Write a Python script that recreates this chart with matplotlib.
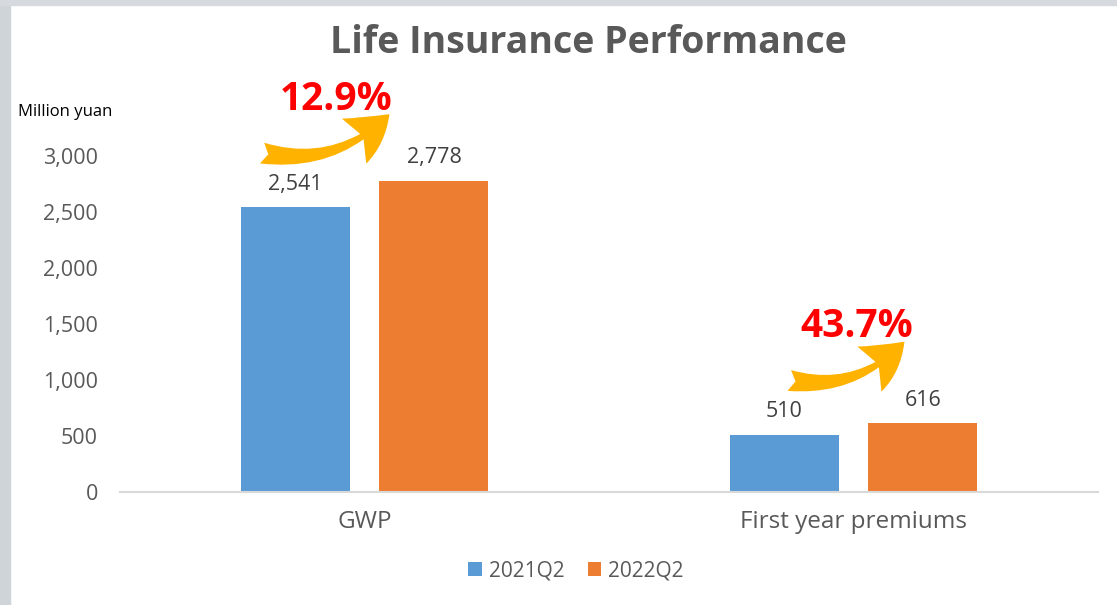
"""
Life Insurance Performance - grouped bar chart, 2021Q2 vs 2022Q2.
Output: out.png
"""
import numpy as np
import matplotlib
matplotlib.use("Agg")
import matplotlib.pyplot as plt
from matplotlib.patches import Rectangle, FancyArrowPatch

plt.rcParams["font.family"] = ["Open Sans", "DejaVu Sans"]

# data
CATEGORIES = ["GWP", "First year premiums"]
SERIES     = ["2021Q2", "2022Q2"]
VALS_2021  = [2541, 510]
VALS_2022  = [2778, 616]
GROWTH     = ["12.9%", "43.7%"]
YTICKS     = [0, 500, 1000, 1500, 2000, 2500, 3000]

BLUE   = "#5B9BD5"
ORANGE = "#ED7D31"
GOLD   = "#FFB300"
GREY_T = "#595959"

W, H = 1117, 605
fig = plt.figure(figsize=(W / 100, H / 100), dpi=100)

# window-ish frame strips (left and top)
fig.patches.append(Rectangle((0, 0), 10 / W, 1, transform=fig.transFigure,
                             color="#cfd4d9", zorder=0))
fig.patches.append(Rectangle((0, 1 - 5 / H), 1, 5 / H, transform=fig.transFigure,
                             color="#d6dade", zorder=0))

ax = fig.add_axes([120 / W, 113 / H, 978 / W, 336 / H])
x = np.arange(len(CATEGORIES))
bw, off = 0.223, 0.142

b1 = ax.bar(x - off, VALS_2021, bw, color=BLUE, label=SERIES[0], zorder=2)
b2 = ax.bar(x + off, VALS_2022, bw, color=ORANGE, label=SERIES[1], zorder=2)

for bars in (b1, b2):
    for r in bars:
        v = r.get_height()
        ax.text(r.get_x() + r.get_width() / 2, v + 205, f"{v:,.0f}",
                ha="center", va="center", fontsize=15.5, color="#404040")

ax.set_xlim(-0.5, 1.5)
ax.set_ylim(0, 3000)
ax.set_yticks(YTICKS)
ax.set_yticklabels([f"{t:,}" for t in YTICKS], fontsize=15.5, color=GREY_T)
ax.set_xticks(x)
ax.set_xticklabels(CATEGORIES, fontsize=17.5, color=GREY_T)
ax.tick_params(axis="y", length=0, pad=16)
ax.tick_params(axis="x", length=0, pad=13)
for s in ("top", "right", "left"):
    ax.spines[s].set_visible(False)
ax.spines["bottom"].set_color("#d9d9d9")
ax.spines["bottom"].set_linewidth(1.5)

# growth arrows + labels
tail_dx = [-0.215, -0.137]
tip_dx  = [0.055, 0.108]
for i in range(len(CATEGORIES)):
    y0 = VALS_2021[i] + 490
    y1 = y0 + 360
    arr = FancyArrowPatch((x[i] + tail_dx[i], y0), (x[i] + tip_dx[i], y1),
                          connectionstyle="arc3,rad=0.28",
                          arrowstyle="fancy,head_length=2.0,head_width=2.3,tail_width=0.95",
                          mutation_scale=16, color=GOLD, lw=0, clip_on=False, zorder=3)
    ax.add_patch(arr)
    xm = x[i] + (tail_dx[i] + tip_dx[i]) / 2 + 0.022
    ax.text(xm, y1 + 115, GROWTH[i], ha="center", va="center", fontsize=28,
            fontweight="bold", color="#FF0000", clip_on=False, zorder=4)

fig.text(588 / W, 1 - 43 / H, "Life Insurance Performance", ha="center", va="center",
         fontsize=27, fontweight="bold", color=GREY_T)
fig.text(18 / W, 1 - 112 / H, "Million yuan", ha="left", va="center",
         fontsize=12, color="black")

fig.legend(loc="center", bbox_to_anchor=(576 / W, 1 - 571 / H), ncol=2,
           frameon=False, fontsize=15, handlelength=0.65, handleheight=0.65,
           handletextpad=0.35, columnspacing=1.1, labelcolor=GREY_T)

fig.savefig("out.png", dpi=100)
